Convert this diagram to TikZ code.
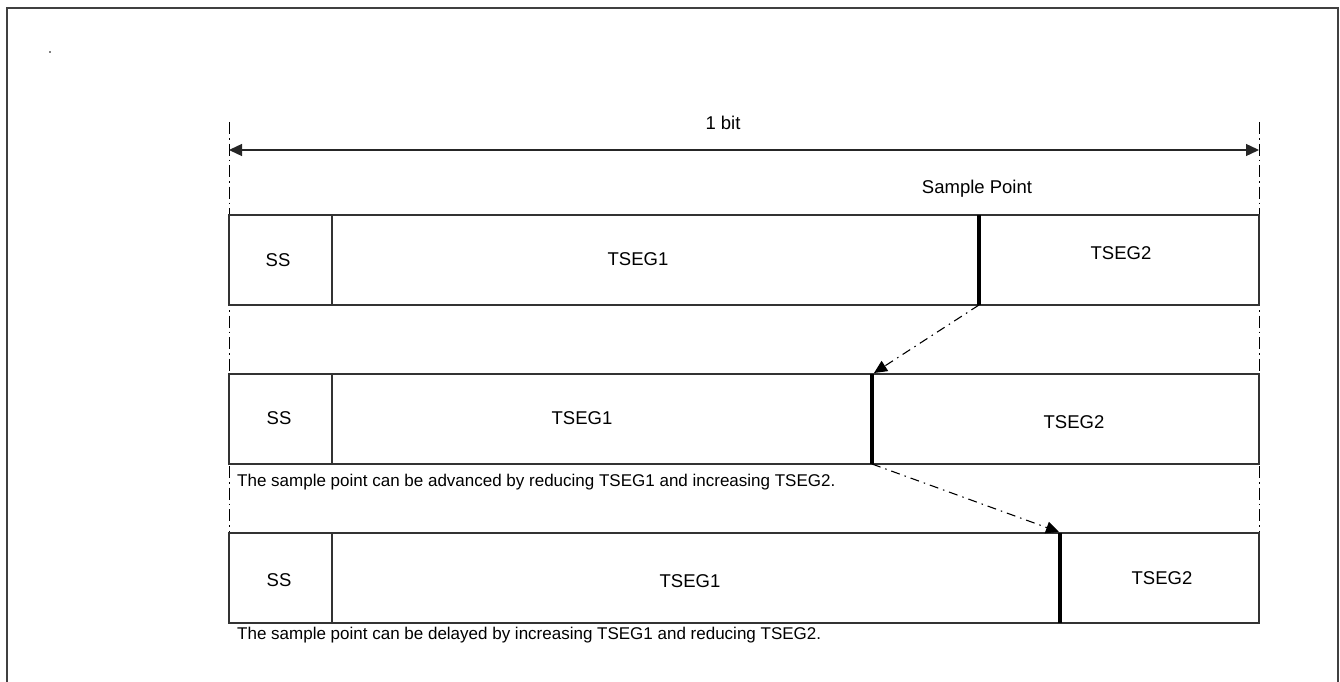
\documentclass[tikz,border=0pt]{standalone}
\usepackage{fontspec}
\setmainfont{Liberation Sans}
\usetikzlibrary{arrows.meta}
\begin{document}
\begin{tikzpicture}[x=1pt,y=-1pt,
 segbox/.style={draw=black!80, line width=1.2pt},
 lbl/.style={font=\fontsize{18.5}{22}\selectfont, anchor=base, inner sep=0pt},
 captxt/.style={font=\fontsize{17}{20}\selectfont, anchor=base west, inner sep=0pt},
 guide/.style={draw=black, line width=1pt, dash pattern=on 12pt off 4pt on 1.5pt off 4pt},
 sampleline/.style={draw=black, line width=3.2pt},
 movearrow/.style={draw=black, line width=1.1pt, dash pattern=on 9pt off 5pt on 1.5pt off 5pt, -{Triangle[length=13pt,width=12pt]}},
 bitarrow/.style={draw=black!85, line width=1.3pt, {Triangle[length=13pt,width=12pt]}-{Triangle[length=13pt,width=12pt]}},
 ]
\useasboundingbox (0,0) rectangle (1340,682);
% outer frame
\draw[black!75, line width=1.8pt] (7,682) -- (7,8) -- (1338,8) -- (1338,682);
\fill (50,52) circle (0.8pt);

% guides
\coordinate (gLt) at (229,122);
\coordinate (gLb) at (229,623);
\coordinate (gRt) at (1259,122);
\coordinate (gRb) at (1259,623);
\draw[guide] (gLt) -- (gLb);
\draw[guide] (gRt) -- (gRb);

% bit arrow
\coordinate (bitL) at (229,150);
\coordinate (bitR) at (1259,150);
\draw[bitarrow] (bitL) -- (bitR);
\node[lbl] (onebit) at (723,129.6) {1 bit};
\node[lbl] (sp) at (977,193.6) {Sample Point};

% row 1
\draw[segbox] (229,215) rectangle (1259,305);
\draw[segbox] (332,215) -- (332,305);
\coordinate (s1t) at (979,215);
\coordinate (s1b) at (979,305);
\draw[sampleline] (s1t) -- (s1b);
\node[lbl] (ss1) at (278,266.6) {SS};
\node[lbl] (t11) at (638,265.6) {TSEG1};
\node[lbl] (t21) at (1121,259.6) {TSEG2};

% row 2
\draw[segbox] (229,374) rectangle (1259,464);
\draw[segbox] (332,374) -- (332,464);
\coordinate (s2t) at (872,374);
\coordinate (s2b) at (872,464);
\draw[sampleline] (s2t) -- (s2b);
\node[lbl] (ss2) at (279,424.6) {SS};
\node[lbl] (t12) at (582,424.6) {TSEG1};
\node[lbl] (t22) at (1074,428.6) {TSEG2};
\node[captxt] (cap2) at (237,486) {The sample point can be advanced by reducing TSEG1 and increasing TSEG2.};

% row 3
\draw[segbox] (229,533) rectangle (1259,623);
\draw[segbox] (332,533) -- (332,623);
\coordinate (s3t) at (1060,533);
\coordinate (s3b) at (1060,623);
\draw[sampleline] (s3t) -- (s3b);
\node[lbl] (ss3) at (279,586.6) {SS};
\node[lbl] (t13) at (690,587.6) {TSEG1};
\node[lbl] (t23) at (1162,584.6) {TSEG2};
\node[captxt] (cap3) at (237,639) {The sample point can be delayed by increasing TSEG1 and reducing TSEG2.};

% moves
\coordinate (tip2) at (874,373);
\coordinate (tip3) at (1059,532);
\draw[movearrow] (s1b) -- (tip2);
\draw[movearrow] (s2b) -- (tip3);
\end{tikzpicture}
\end{document}
